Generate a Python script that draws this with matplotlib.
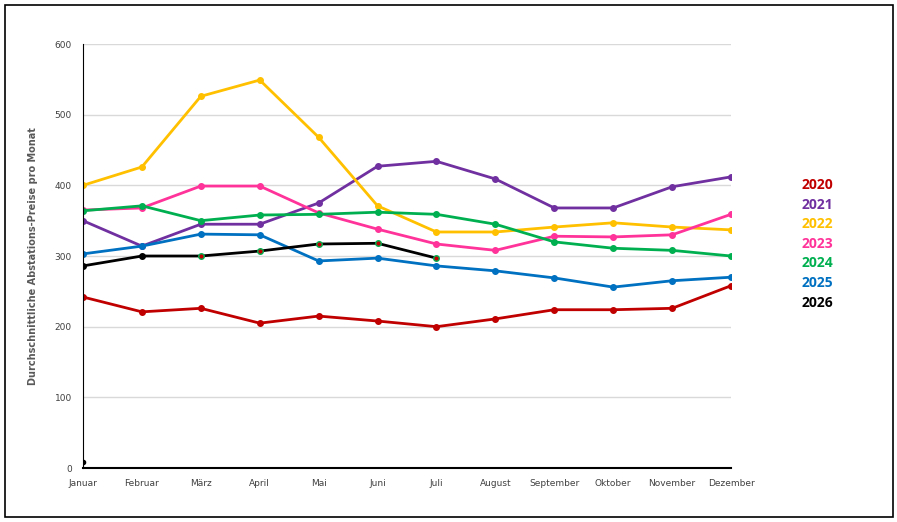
import matplotlib.pyplot as plt
from matplotlib.patches import Rectangle

months = ["Januar", "Februar", "März", "April", "Mai", "Juni", "Juli",
          "August", "September", "Oktober", "November", "Dezember"]

y2020 = [242, 221, 226, 205, 215, 208, 200, 211, 224, 224, 226, 258]
y2021 = [350, 314, 345, 345, 375, 427, 434, 409, 368, 368, 398, 412]
y2022 = [400, 426, 526, 549, 468, 371, 334, 334, 341, 347, 341, 337]
y2023 = [365, 368, 399, 399, 361, 338, 317, 308, 328, 327, 330, 359]
y2024 = [364, 371, 350, 358, 359, 362, 359, 345, 320, 311, 308, 300]
y2025 = [303, 314, 331, 330, 293, 297, 286, 279, 269, 256, 265, 270]
y2026 = [286, 300, 300, 307, 317, 318, 297]
stray = [8]

years = ["2020", "2021", "2022", "2023", "2024", "2025", "2026"]
colors = ["#C00000", "#7030A0", "#FFC000", "#FF3399", "#00B050", "#0070C0", "#000000"]
series = [y2020, y2021, y2022, y2023, y2024, y2025, y2026]

fig = plt.figure(figsize=(8.97, 5.22), dpi=100)
ax = fig.add_axes([0.0925, 0.1034, 0.7225, 0.8123])

x_all = list(range(len(months)))
for vals, col in zip(series[:-1], colors[:-1]):
    ax.plot(x_all[:len(vals)], vals, color=col, lw=2.0, marker="o", ms=4,
            solid_capstyle="round", zorder=3)

# 2026: first two markers black, later ones red with green rim
x26 = x_all[:len(y2026)]
ax.plot(x26, y2026, color="black", lw=2.0, zorder=4)
ax.plot(x26[:2], y2026[:2], ls="none", marker="o", ms=4, color="black", zorder=5)
ax.plot(x26[2:], y2026[2:], ls="none", marker="o", ms=4, mfc="#C00000",
        mec="#00B050", mew=1, zorder=5)
ax.plot([0], stray, ls="none", marker="o", ms=3, color="black", zorder=5)

ax.set_xlim(0, 11)
ax.set_ylim(0, 600)
ax.set_yticks(range(0, 601, 100))
ax.set_xticks(x_all)
ax.set_xticklabels(months)
ax.tick_params(length=0, labelsize=6.5, colors="#404040", pad=8)
ax.grid(axis="y", color="#D9D9D9", lw=1)
ax.set_axisbelow(True)
for s in ["top", "right"]:
    ax.spines[s].set_visible(False)
ax.spines["left"].set_color("black")
ax.spines["bottom"].set_color("black")
ax.spines["bottom"].set_linewidth(1.5)
ax.spines["left"].set_zorder(6)
ax.set_clip_on(False)

fig.text(0.037, 0.51, "Durchschnittliche Abstations-Preise pro Monat",
         rotation=90, ha="center", va="center", fontsize=7, fontweight="bold",
         color="#595959")

for i, (yr, col) in enumerate(zip(years, colors)):
    fig.text(0.894, 1 - (185 + i * 19.6) / 522, yr, color=col, fontsize=10,
             fontweight="bold", ha="left", va="center", family="Open Sans")

fig.patches.append(Rectangle((5 / 897, 5 / 522), 888 / 897, 512 / 522,
                             transform=fig.transFigure, fill=False,
                             edgecolor="black", lw=1.2))

fig.savefig("out.png", dpi=100)
